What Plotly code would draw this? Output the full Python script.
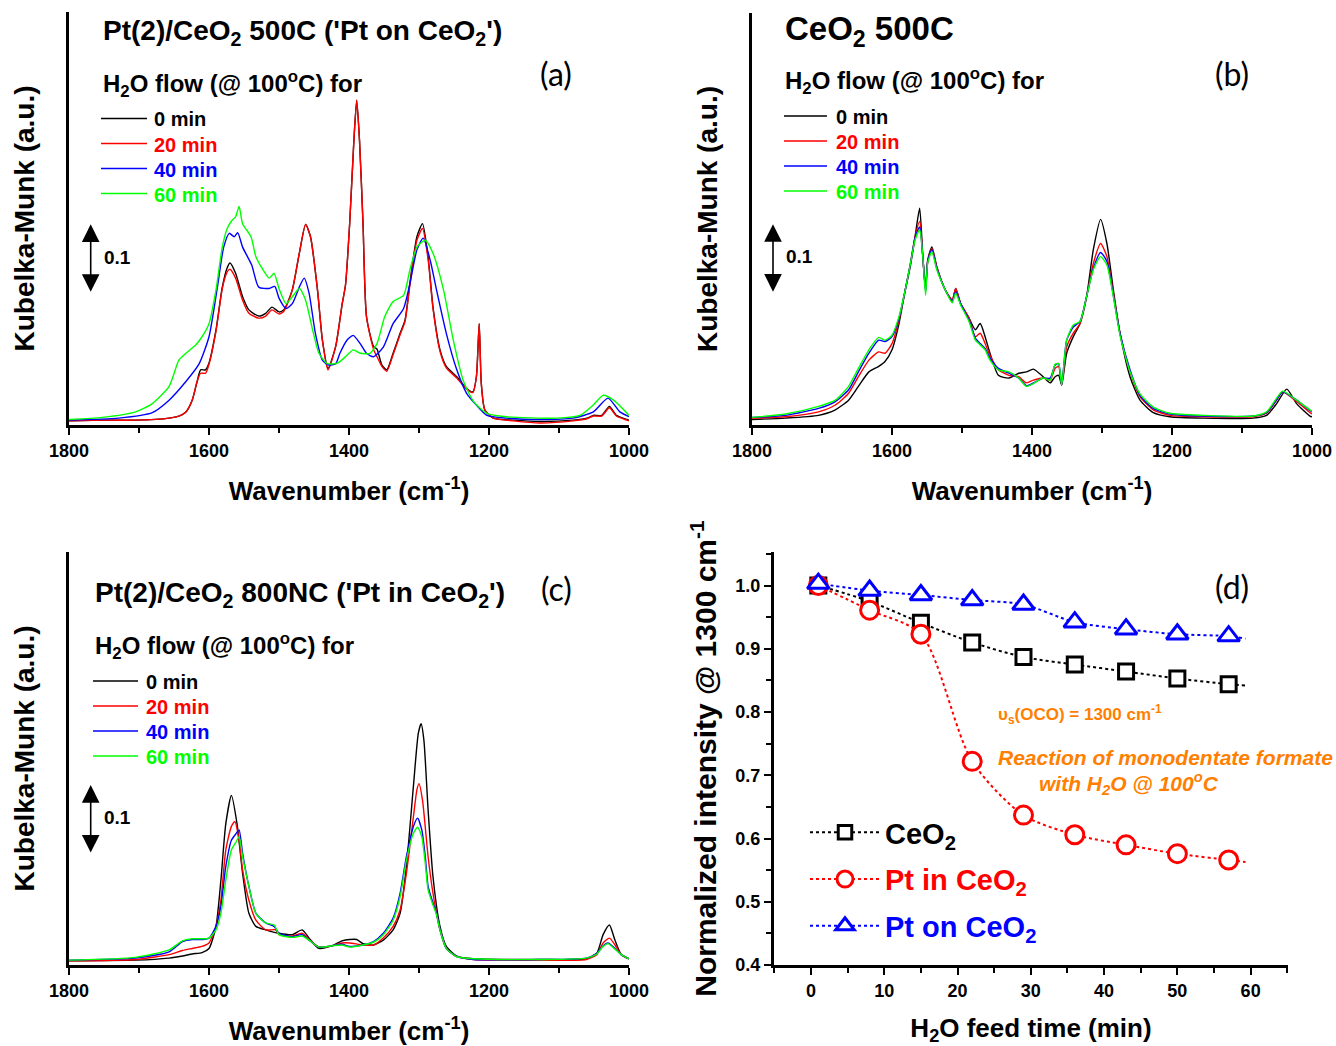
import plotly.graph_objects as go

W, H = 1336, 1046
FONT = "Liberation Sans, Arial, Helvetica, sans-serif"
LABEL_FONT = "Lato, Carlito, Open Sans, sans-serif"
ORANGE = "#FF8000"

SERIES_NAMES = ["0 min", "20 min", "40 min", "60 min"]
SERIES_COLORS = ["#000000", "#FF0000", "#0000FF", "#00FF00"]

# ---------------- Panel (a): Pt(2)/CeO2 500C ----------------
A_WN_0_20 = [1800, 1750, 1705, 1657, 1643, 1633, 1624, 1617, 1612, 1605,
             1600, 1590, 1581, 1574, 1570, 1562, 1552, 1543, 1529, 1519,
             1510, 1500, 1493, 1481, 1471, 1462, 1455, 1445, 1438, 1430,
             1419, 1410, 1405, 1399, 1393, 1389, 1385, 1380, 1375, 1365,
             1360, 1353, 1346, 1337, 1327, 1320, 1313, 1303, 1295, 1287,
             1280, 1270, 1261, 1246, 1232, 1223, 1218, 1214, 1211, 1206,
             1194, 1165, 1127, 1080, 1060, 1051, 1039, 1028, 1018, 1003,
             1000]
A_KM_0 = [0.006, 0.007, 0.007, 0.010, 0.013, 0.019, 0.036, 0.063, 0.080, 0.080,
          0.090, 0.138, 0.200, 0.228, 0.235, 0.220, 0.186, 0.167, 0.158, 0.162,
          0.171, 0.164, 0.167, 0.196, 0.249, 0.291, 0.273, 0.196, 0.123, 0.082,
          0.114, 0.174, 0.203, 0.293, 0.413, 0.471, 0.413, 0.293, 0.157, 0.114,
          0.110, 0.087, 0.080, 0.104, 0.133, 0.152, 0.206, 0.273, 0.292, 0.244,
          0.171, 0.109, 0.085, 0.070, 0.053, 0.048, 0.070, 0.147, 0.060, 0.022,
          0.010, 0.007, 0.005, 0.007, 0.010, 0.014, 0.014, 0.027, 0.014, 0.008,
          0.007]
A_KM_20 = [0.006, 0.007, 0.007, 0.010, 0.013, 0.019, 0.036, 0.063, 0.075, 0.075,
           0.088, 0.136, 0.198, 0.222, 0.226, 0.213, 0.181, 0.162, 0.155, 0.158,
           0.167, 0.161, 0.165, 0.196, 0.249, 0.291, 0.273, 0.196, 0.123, 0.080,
           0.114, 0.174, 0.203, 0.293, 0.413, 0.471, 0.413, 0.293, 0.157, 0.110,
           0.099, 0.085, 0.078, 0.102, 0.131, 0.150, 0.203, 0.268, 0.285, 0.240,
           0.169, 0.107, 0.083, 0.068, 0.052, 0.047, 0.070, 0.147, 0.060, 0.022,
           0.010, 0.006, 0.003, 0.006, 0.009, 0.013, 0.013, 0.025, 0.013, 0.007,
           0.006]
A_WN_40 = [1800, 1729, 1681, 1657, 1633, 1614, 1600, 1588, 1579, 1571,
           1564, 1559, 1552, 1539, 1529, 1514, 1506, 1500, 1490, 1481,
           1471, 1464, 1457, 1448, 1438, 1429, 1419, 1413, 1403, 1394,
           1384, 1375, 1365, 1351, 1337, 1322, 1313, 1303, 1294, 1284,
           1275, 1261, 1246, 1232, 1218, 1203, 1175, 1127, 1080, 1051,
           1030, 1013, 1000]
A_KM_40 = [0.007, 0.010, 0.018, 0.036, 0.063, 0.089, 0.128, 0.200, 0.258, 0.278,
           0.273, 0.279, 0.258, 0.232, 0.200, 0.198, 0.201, 0.184, 0.169, 0.176,
           0.200, 0.213, 0.191, 0.133, 0.094, 0.087, 0.089, 0.104, 0.123, 0.130,
           0.118, 0.104, 0.099, 0.113, 0.147, 0.169, 0.205, 0.254, 0.271, 0.239,
           0.196, 0.133, 0.080, 0.046, 0.029, 0.014, 0.010, 0.008, 0.010, 0.019,
           0.039, 0.019, 0.012]
A_WN_60 = [1800, 1752, 1705, 1681, 1657, 1643, 1633, 1619, 1610, 1600,
           1590, 1581, 1574, 1567, 1562, 1557, 1552, 1540, 1533, 1524,
           1514, 1507, 1500, 1490, 1481, 1471, 1462, 1452, 1443, 1431,
           1419, 1413, 1403, 1394, 1384, 1370, 1360, 1349, 1337, 1322,
           1313, 1303, 1291, 1280, 1265, 1251, 1237, 1222, 1203, 1175,
           1103, 1070, 1051, 1037, 1022, 1000]
A_KM_60 = [0.008, 0.011, 0.019, 0.031, 0.056, 0.094, 0.104, 0.116, 0.128, 0.147,
           0.196, 0.258, 0.285, 0.297, 0.302, 0.317, 0.292, 0.273, 0.244, 0.227,
           0.213, 0.220, 0.198, 0.176, 0.186, 0.198, 0.181, 0.138, 0.104, 0.089,
           0.089, 0.092, 0.101, 0.109, 0.104, 0.104, 0.118, 0.157, 0.179, 0.188,
           0.225, 0.258, 0.268, 0.249, 0.196, 0.123, 0.065, 0.034, 0.017, 0.012,
           0.010, 0.014, 0.029, 0.043, 0.036, 0.014]

# ---------------- Panel (b): CeO2 500C ----------------
B_WN_0 = [1800, 1752, 1705, 1681, 1662, 1648, 1633, 1619, 1610, 1600,
          1590, 1581, 1574, 1567, 1560.5, 1556, 1552, 1549, 1543, 1536,
          1524, 1514, 1509, 1502, 1490, 1481, 1474, 1467, 1460, 1448,
          1433, 1419, 1408, 1398, 1384, 1374, 1367, 1362, 1357.6, 1350.5,
          1341, 1331.4, 1322, 1312.4, 1302, 1293, 1283.8, 1274.3, 1260, 1245.7,
          1226.7, 1203, 1155, 1084, 1065, 1050.5, 1036, 1022, 1003, 1000]
B_KM_0 = [0.008, 0.010, 0.014, 0.022, 0.036, 0.056, 0.077, 0.085, 0.092, 0.109,
          0.147, 0.196, 0.229, 0.273, 0.314, 0.244, 0.196, 0.239, 0.258, 0.229,
          0.196, 0.181, 0.198, 0.176, 0.155, 0.138, 0.147, 0.128, 0.104, 0.072,
          0.068, 0.075, 0.077, 0.081, 0.070, 0.061, 0.070, 0.072, 0.058, 0.104,
          0.128, 0.147, 0.186, 0.254, 0.298, 0.263, 0.196, 0.133, 0.070, 0.036,
          0.018, 0.012, 0.010, 0.010, 0.014, 0.031, 0.052, 0.031, 0.013, 0.012]
B_WN_20_60 = [1800, 1752, 1705, 1681, 1662, 1648, 1633, 1619, 1610, 1600,
              1590, 1581, 1574, 1567, 1560.5, 1556, 1552, 1549, 1543, 1536,
              1524, 1514, 1509, 1502, 1490, 1481, 1474, 1467, 1460, 1448,
              1433, 1419, 1408, 1398, 1384, 1374, 1367, 1362, 1357.6, 1350.5,
              1341, 1331.4, 1322, 1312.4, 1302, 1293, 1283.8, 1274.3, 1260, 1245.7,
              1226.7, 1203, 1155, 1084, 1065, 1050.5, 1042, 1022, 1003, 1000]
B_KM_20 = [0.010, 0.012, 0.019, 0.029, 0.046, 0.070, 0.094, 0.106, 0.104, 0.118,
           0.152, 0.196, 0.232, 0.273, 0.295, 0.244, 0.196, 0.237, 0.256, 0.229,
           0.196, 0.181, 0.198, 0.176, 0.155, 0.128, 0.133, 0.118, 0.101, 0.080,
           0.072, 0.070, 0.061, 0.065, 0.068, 0.065, 0.082, 0.085, 0.058, 0.113,
           0.133, 0.147, 0.186, 0.234, 0.263, 0.244, 0.191, 0.133, 0.077, 0.041,
           0.022, 0.014, 0.012, 0.012, 0.017, 0.036, 0.048, 0.034, 0.018, 0.016]
B_KM_40 = [0.011, 0.014, 0.024, 0.034, 0.051, 0.077, 0.104, 0.123, 0.121, 0.128,
           0.155, 0.196, 0.232, 0.271, 0.287, 0.244, 0.193, 0.237, 0.254, 0.227,
           0.196, 0.179, 0.193, 0.176, 0.152, 0.126, 0.118, 0.111, 0.097, 0.082,
           0.075, 0.068, 0.057, 0.061, 0.068, 0.068, 0.087, 0.089, 0.058, 0.123,
           0.142, 0.150, 0.186, 0.227, 0.250, 0.237, 0.188, 0.133, 0.080, 0.043,
           0.024, 0.016, 0.013, 0.013, 0.018, 0.037, 0.048, 0.036, 0.021, 0.019]
B_KM_60 = [0.011, 0.016, 0.027, 0.036, 0.056, 0.082, 0.109, 0.127, 0.123, 0.130,
           0.157, 0.196, 0.232, 0.268, 0.283, 0.244, 0.188, 0.235, 0.251, 0.225,
           0.196, 0.177, 0.191, 0.174, 0.150, 0.123, 0.116, 0.109, 0.094, 0.080,
           0.077, 0.068, 0.056, 0.060, 0.068, 0.065, 0.088, 0.089, 0.058, 0.123,
           0.145, 0.150, 0.186, 0.225, 0.244, 0.232, 0.186, 0.130, 0.077, 0.045,
           0.026, 0.017, 0.014, 0.013, 0.019, 0.039, 0.049, 0.036, 0.022, 0.020]

# ---------------- Panel (c): Pt(2)/CeO2 800NC ----------------
C_WN_0 = [1800, 1705, 1657, 1638, 1624, 1610, 1600, 1590, 1583, 1576,
          1568, 1560, 1552, 1543, 1533, 1519, 1500, 1481, 1467, 1457,
          1443, 1424, 1410, 1399, 1389, 1380, 1365, 1351, 1337, 1327,
          1318, 1308, 1301, 1297, 1293, 1287, 1280, 1270, 1261, 1246,
          1222, 1127, 1061, 1046, 1037, 1028, 1020, 1011, 1000]
C_KM_0 = [0.003, 0.004, 0.007, 0.010, 0.013, 0.015, 0.021, 0.053, 0.120, 0.202,
          0.243, 0.202, 0.130, 0.072, 0.053, 0.048, 0.043, 0.041, 0.048, 0.036,
          0.021, 0.025, 0.032, 0.034, 0.034, 0.028, 0.026, 0.033, 0.048, 0.072,
          0.140, 0.256, 0.333, 0.347, 0.323, 0.222, 0.125, 0.053, 0.024, 0.010,
          0.006, 0.005, 0.006, 0.014, 0.041, 0.055, 0.033, 0.012, 0.006]
C_WN_20 = [1800, 1705, 1657, 1638, 1624, 1610, 1600, 1590, 1583, 1576,
           1568, 1563, 1557, 1552, 1543, 1533, 1519, 1505, 1500, 1481,
           1467, 1457, 1443, 1424, 1410, 1399, 1380, 1365, 1351, 1337,
           1327, 1318, 1308, 1303, 1300, 1295, 1287, 1280, 1270, 1261,
           1246, 1222, 1127, 1061, 1046, 1037, 1028, 1020, 1011, 1000]
C_KM_20 = [0.003, 0.005, 0.012, 0.018, 0.021, 0.024, 0.029, 0.053, 0.091, 0.164,
           0.198, 0.205, 0.178, 0.135, 0.091, 0.062, 0.048, 0.048, 0.041, 0.039,
           0.043, 0.034, 0.023, 0.025, 0.029, 0.029, 0.026, 0.026, 0.036, 0.053,
           0.077, 0.130, 0.212, 0.251, 0.260, 0.236, 0.154, 0.101, 0.048, 0.021,
           0.009, 0.005, 0.004, 0.005, 0.012, 0.029, 0.036, 0.026, 0.012, 0.006]
C_WN_40_60 = [1800, 1705, 1657, 1638, 1624, 1610, 1600, 1590, 1583, 1576,
              1568, 1561, 1557, 1552, 1543, 1533, 1519, 1507, 1500, 1481,
              1467, 1457, 1443, 1424, 1410, 1399, 1380, 1365, 1351, 1337,
              1327, 1318, 1308, 1302, 1296, 1291, 1287, 1280, 1275, 1270,
              1261, 1246, 1222, 1127, 1061, 1046, 1037, 1030, 1020, 1011,
              1000]
C_KM_40 = [0.004, 0.007, 0.016, 0.031, 0.034, 0.034, 0.036, 0.053, 0.082, 0.140,
           0.178, 0.188, 0.193, 0.159, 0.111, 0.072, 0.058, 0.053, 0.043, 0.038,
           0.041, 0.033, 0.023, 0.025, 0.027, 0.024, 0.026, 0.031, 0.043, 0.065,
           0.101, 0.154, 0.198, 0.210, 0.193, 0.154, 0.111, 0.087, 0.072, 0.048,
           0.021, 0.009, 0.005, 0.005, 0.007, 0.014, 0.025, 0.029, 0.021, 0.012,
           0.006]
C_KM_60 = [0.004, 0.008, 0.019, 0.032, 0.035, 0.035, 0.036, 0.048, 0.072, 0.120,
           0.164, 0.176, 0.183, 0.154, 0.111, 0.072, 0.058, 0.055, 0.041, 0.037,
           0.039, 0.033, 0.023, 0.025, 0.026, 0.023, 0.026, 0.030, 0.041, 0.062,
           0.096, 0.149, 0.188, 0.197, 0.183, 0.144, 0.106, 0.084, 0.070, 0.048,
           0.021, 0.009, 0.006, 0.005, 0.007, 0.013, 0.024, 0.028, 0.020, 0.012,
           0.006]

# ---------------- Panel (d): normalized 1300 cm-1 intensity ----------------
D_TIME = [1, 8, 15, 22, 29, 36, 43, 50, 57]
D_CEO2 = [1.000, 0.975, 0.941, 0.910, 0.887, 0.875, 0.864, 0.853, 0.844]
D_PT_IN = [1.000, 0.961, 0.923, 0.722, 0.637, 0.606, 0.590, 0.576, 0.566]
D_PT_ON = [1.003, 0.992, 0.985, 0.977, 0.970, 0.942, 0.931, 0.923, 0.920]
# end of each dotted guide curve (beyond last measurement)
D_CURVE_END_TIME = 59.3
D_CURVE_END = {"CeO2": 0.842, "Pt in CeO2": 0.563, "Pt on CeO2": 0.916}

WN_TICKS = [1800, 1600, 1400, 1200, 1000]
WN_MINOR = [1700, 1500, 1300, 1100]
D_XTICKS = [0, 10, 20, 30, 40, 50, 60]
D_YTICKS = [0.4, 0.5, 0.6, 0.7, 0.8, 0.9, 1.0]


def fx(px):
    return px / W


def fy(py):
    return 1 - py / H


fig = go.Figure()

panels = [
    ("x", "y",
     [(A_WN_0_20, A_KM_0), (A_WN_0_20, A_KM_20), (A_WN_40, A_KM_40), (A_WN_60, A_KM_60)]),
    ("x2", "y2",
     [(B_WN_0, B_KM_0), (B_WN_20_60, B_KM_20), (B_WN_20_60, B_KM_40), (B_WN_20_60, B_KM_60)]),
    ("x3", "y3",
     [(C_WN_0, C_KM_0), (C_WN_20, C_KM_20), (C_WN_40_60, C_KM_40), (C_WN_40_60, C_KM_60)]),
]
for xa, ya, series in panels:
    for (wn, km), name, color in zip(series, SERIES_NAMES, SERIES_COLORS):
        fig.add_trace(go.Scatter(
            x=wn, y=km, mode="lines", xaxis=xa, yaxis=ya, showlegend=False,
            name=name,
            line=dict(color=color, width=1.4, shape="spline", smoothing=0.6),
            hoverinfo="skip",
        ))

d_series = [
    ("CeO<sub>2</sub>", "CeO2", D_CEO2, "#000000", "square", 15),
    ("Pt in CeO<sub>2</sub>", "Pt in CeO2", D_PT_IN, "#FF0000", "circle", 18),
    ("Pt on CeO<sub>2</sub>", "Pt on CeO2", D_PT_ON, "#0000FF", "triangle-up", 19),
]
for label, key, vals, color, sym, size in d_series:
    xs = D_TIME + [D_CURVE_END_TIME]
    ys = vals + [D_CURVE_END[key]]
    sizes = [size] * len(D_TIME) + [0]
    fig.add_trace(go.Scatter(
        x=xs, y=ys, mode="lines+markers", xaxis="x4", yaxis="y4", legend="legend",
        legendgroup=key,
        name=f'<span style="color:{color}">{label}</span>',
        line=dict(color=color, width=2, dash="dot", shape="spline", smoothing=0.8),
        marker=dict(symbol=sym, size=sizes, color="white", opacity=1,
                    line=dict(width=3, color=color)),
        hoverinfo="skip",
    ))

tickfont = dict(family=FONT, size=18, color="black", weight="bold")
xtitle_font = dict(family=FONT, size=26, color="black", weight="bold")
ytitle_font = dict(family=FONT, size=28, color="black", weight="bold")


def wn_xaxis(x0, x1, anchor):
    return dict(
        domain=[fx(x0), fx(x1)], anchor=anchor, range=[1800, 1000], automargin=False,
        showline=True, linewidth=3, linecolor="black", mirror=False,
        ticks="outside", ticklen=7, tickwidth=2, tickcolor="black",
        tickvals=WN_TICKS, ticktext=[str(v) for v in WN_TICKS],
        minor=dict(tickvals=WN_MINOR, ticks="outside", ticklen=5, tickwidth=2, tickcolor="black"),
        showgrid=False, zeroline=False, tickfont=tickfont,
        title=dict(text="Wavenumber (cm<sup>-1</sup>)", font=xtitle_font, standoff=23),
    )


def km_yaxis(y0, y1, anchor, rng):
    return dict(
        domain=[fy(y1), fy(y0)], anchor=anchor, range=rng, automargin=False,
        showline=True, linewidth=3, linecolor="black",
        ticks="", showticklabels=False, showgrid=False, zeroline=False,
        title=dict(text="Kubelka-Munk (a.u.)", font=ytitle_font, standoff=24),
    )


fig.update_layout(
    width=W, height=H, margin=dict(l=0, r=0, t=0, b=0, autoexpand=False),
    paper_bgcolor="white", plot_bgcolor="white",
    xaxis=wn_xaxis(69, 629, "y"),
    yaxis=km_yaxis(12, 425, "x", [0, 0.599]),
    xaxis2=wn_xaxis(752, 1312, "y2"),
    yaxis2=km_yaxis(13, 425, "x2", [0, 0.597]),
    xaxis3=wn_xaxis(69, 629, "y3"),
    yaxis3=km_yaxis(552, 965, "x3", [-0.003, 0.596]),
    xaxis4=dict(
        domain=[fx(774), fx(1288)], anchor="y4", range=[-5.05, 65.1], automargin=False,
        showline=True, linewidth=3, linecolor="black",
        ticks="outside", ticklen=7, tickwidth=2, tickcolor="black",
        tickvals=D_XTICKS, ticktext=[str(v) for v in D_XTICKS],
        minor=dict(dtick=5, tick0=0, ticks="outside", ticklen=5, tickwidth=2, tickcolor="black"),
        showgrid=False, zeroline=False, tickfont=tickfont,
        title=dict(text="H<sub>2</sub>O feed time (min)", font=xtitle_font, standoff=22),
    ),
    yaxis4=dict(
        domain=[fy(965), fy(552)], anchor="x4", range=[0.4, 1.053], automargin=False,
        showline=True, linewidth=3, linecolor="black",
        ticks="outside", ticklen=7, tickwidth=2, tickcolor="black",
        tickvals=D_YTICKS, ticktext=[f"{v:.1f}" for v in D_YTICKS],
        minor=dict(dtick=0.05, tick0=0.4, ticks="outside", ticklen=5, tickwidth=2, tickcolor="black"),
        showgrid=False, zeroline=False, tickfont=tickfont,
        title=dict(text="Normalized intensity @ 1300 cm<sup>-1</sup>",
                   font=dict(family=FONT, size=30, color="black", weight="bold"), standoff=10),
    ),
    showlegend=True,
    legend=dict(
        x=fx(805), y=fy(807), xanchor="left", yanchor="top", bgcolor="rgba(0,0,0,0)",
        font=dict(family=FONT, size=29, color="black", weight="bold"),
        itemwidth=70, tracegroupgap=6, itemclick=False, itemdoubleclick=False,
    ),
)

ann = []
shapes = []


def text(x, y, s, size, xanchor="left", family=FONT, color="black", weight="bold", style="normal"):
    ann.append(dict(
        x=fx(x), y=fy(y), xref="paper", yref="paper", text=s, showarrow=False,
        xanchor=xanchor, yanchor="middle",
        font=dict(family=family, size=size, color=color, weight=weight, style=style),
    ))


def key_block(x_line0, x_line1, x_text, y_first, step):
    for i, (name, color) in enumerate(zip(SERIES_NAMES, SERIES_COLORS)):
        yy = y_first + i * step
        shapes.append(dict(type="line", xref="paper", yref="paper",
                           x0=fx(x_line0), x1=fx(x_line1), y0=fy(yy), y1=fy(yy),
                           line=dict(color=color, width=1.3)))
        text(x_text, yy + 1, name, 20, color=color)


h2o = "H<sub>2</sub>O flow (@ 100<sup>o</sup>C) for"
# panel a
text(101, 33, "Pt(2)/CeO<sub>2</sub> 500C ('Pt on CeO<sub>2</sub>')", 28)
text(101, 84, h2o, 24)
text(556, 73, "(a)", 32, xanchor="center", family=LABEL_FONT, weight="normal")
text(102, 257, "0.1", 19)
key_block(101, 147, 152, 118.5, 25)
# panel b
text(783, 31, "CeO<sub>2</sub> 500C", 33)
text(783, 81, h2o, 24)
text(1232, 73, "(b)", 32, xanchor="center", family=LABEL_FONT, weight="normal")
text(784, 256, "0.1", 19)
key_block(784, 827, 834, 116, 25)
# panel c
text(93, 594, "Pt(2)/CeO<sub>2</sub> 800NC ('Pt in CeO<sub>2</sub>')", 28)
text(93, 646, h2o, 24)
text(556, 588, "(c)", 32, xanchor="center", family=LABEL_FONT, weight="normal")
text(102, 817, "0.1", 19)
key_block(93, 138, 144, 681, 25)
# panel d
text(1232, 586, "(d)", 32, xanchor="center", family=LABEL_FONT, weight="normal")
text(996, 714, "υ<sub>s</sub>(OCO) = 1300 cm<sup>-1</sup>", 17, color=ORANGE)
text(1335, 757, "Reaction of monodentate formate", 21, xanchor="right", color=ORANGE, style="italic")
text(1129, 783, "with H<sub>2</sub>O @ 100<sup>o</sup>C", 21, xanchor="center", color=ORANGE, style="italic")

# 0.1 scale bars (double-headed arrows spanning 0.1 a.u.)
for xr, yr, xwn, ytop, ybot in [("x", "y", 1769, 0.291, 0.191),
                                 ("x2", "y2", 1770, 0.291, 0.191),
                                 ("x3", "y3", 1769, 0.258, 0.158)]:
    ann.append(dict(
        x=xwn, y=ytop, ax=xwn, ay=ybot, xref=xr, yref=yr, axref=xr, ayref=yr,
        text="", showarrow=True, arrowhead=2, arrowside="end+start",
        arrowsize=2.2, arrowwidth=1.6, arrowcolor="black", standoff=0, startstandoff=0,
    ))

fig.update_layout(annotations=ann, shapes=shapes)

# let the 1336x1046 figure fill the window exactly (no default 8px page margin)
fig.write_html("out.html",
               config={"displayModeBar": False, "staticPlot": False},
               post_script="document.body.style.margin='0';document.body.style.overflow='hidden';")
